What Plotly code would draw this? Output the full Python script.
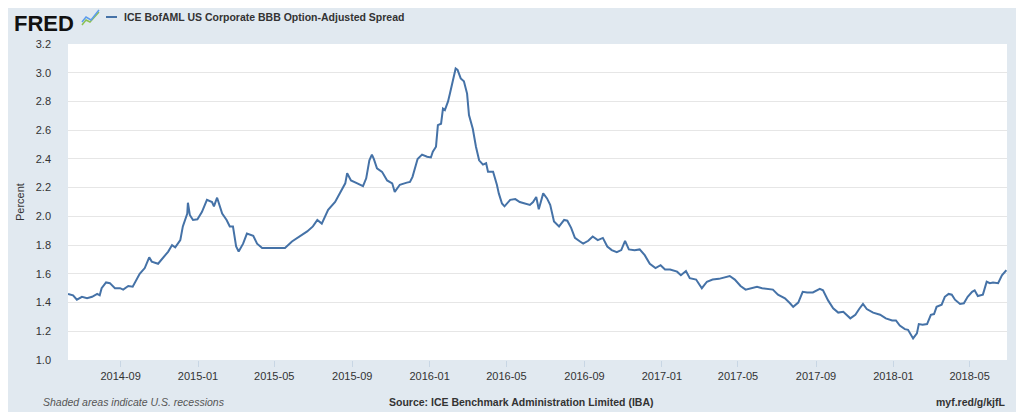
"""FRED-style chart: ICE BofAML US Corporate BBB Option-Adjusted Spread."""

import plotly.graph_objects as go

SERIES_NAME = "ICE BofAML US Corporate BBB Option-Adjusted Spread"
LINE_COLOR = "#4572a7"
PAGE_BG = "#e1e9f0"

dates = [
    "2014-06-10", "2014-06-18", "2014-06-24", "2014-07-02", "2014-07-10", "2014-07-18", "2014-07-26", "2014-07-30",
    "2014-08-02", "2014-08-09", "2014-08-15", "2014-08-23", "2014-08-31", "2014-09-05", "2014-09-13", "2014-09-20",
    "2014-10-01", "2014-10-09", "2014-10-16", "2014-10-20", "2014-10-30", "2014-11-07", "2014-11-15", "2014-11-21",
    "2014-11-26", "2014-12-04", "2014-12-08", "2014-12-15", "2014-12-16", "2014-12-19", "2014-12-24", "2014-12-31",
    "2015-01-07", "2015-01-15", "2015-01-23", "2015-01-26", "2015-01-31", "2015-02-08", "2015-02-15", "2015-02-20",
    "2015-02-25", "2015-03-02", "2015-03-06", "2015-03-13", "2015-03-19", "2015-03-29", "2015-04-04", "2015-04-12",
    "2015-04-24", "2015-05-05", "2015-05-18", "2015-05-29", "2015-06-11", "2015-06-22", "2015-07-01", "2015-07-08",
    "2015-07-15", "2015-07-25", "2015-08-05", "2015-08-13", "2015-08-21", "2015-08-24", "2015-08-30", "2015-09-09",
    "2015-09-18", "2015-09-23", "2015-09-28", "2015-10-02", "2015-10-05", "2015-10-10", "2015-10-18", "2015-10-26",
    "2015-11-03", "2015-11-07", "2015-11-15", "2015-11-26", "2015-12-01", "2015-12-05", "2015-12-10", "2015-12-13",
    "2015-12-20", "2015-12-28", "2016-01-03", "2016-01-06", "2016-01-11", "2016-01-14", "2016-01-19", "2016-01-22",
    "2016-01-25", "2016-01-30", "2016-02-02", "2016-02-06", "2016-02-11", "2016-02-14", "2016-02-19", "2016-02-24",
    "2016-02-29", "2016-03-03", "2016-03-09", "2016-03-14", "2016-03-19", "2016-03-25", "2016-03-30", "2016-04-02",
    "2016-04-10", "2016-04-16", "2016-04-19", "2016-04-24", "2016-04-28", "2016-05-07", "2016-05-15", "2016-05-22",
    "2016-05-30", "2016-06-07", "2016-06-12", "2016-06-17", "2016-06-21", "2016-06-28", "2016-07-04", "2016-07-09",
    "2016-07-15", "2016-07-23", "2016-07-31", "2016-08-05", "2016-08-11", "2016-08-17", "2016-08-25", "2016-08-30",
    "2016-09-07", "2016-09-14", "2016-09-22", "2016-09-30", "2016-10-07", "2016-10-14", "2016-10-22", "2016-10-29",
    "2016-11-04", "2016-11-10", "2016-11-19", "2016-11-27", "2016-12-05", "2016-12-13", "2016-12-22", "2016-12-30",
    "2017-01-06", "2017-01-14", "2017-01-25", "2017-01-31", "2017-02-08", "2017-02-14", "2017-02-24", "2017-03-05",
    "2017-03-13", "2017-03-22", "2017-04-01", "2017-04-09", "2017-04-18", "2017-04-26", "2017-05-05", "2017-05-13",
    "2017-05-23", "2017-05-31", "2017-06-08", "2017-06-17", "2017-06-25", "2017-07-03", "2017-07-14", "2017-07-22",
    "2017-07-27", "2017-08-04", "2017-08-11", "2017-08-18", "2017-08-27", "2017-09-07", "2017-09-12", "2017-09-20",
    "2017-09-28", "2017-10-06", "2017-10-14", "2017-10-25", "2017-11-02", "2017-11-08", "2017-11-14", "2017-11-20",
    "2017-11-30", "2017-12-11", "2017-12-20", "2017-12-30", "2018-01-05", "2018-01-11", "2018-01-19", "2018-01-24",
    "2018-02-01", "2018-02-07", "2018-02-10", "2018-02-16", "2018-02-23", "2018-03-01", "2018-03-06", "2018-03-10",
    "2018-03-18", "2018-03-23", "2018-03-29", "2018-04-03", "2018-04-08", "2018-04-16", "2018-04-22", "2018-04-28",
    "2018-05-05", "2018-05-09", "2018-05-14", "2018-05-22", "2018-05-28", "2018-06-02", "2018-06-07", "2018-06-15",
    "2018-06-21", "2018-06-28",
]

spread = [
    1.46, 1.45, 1.42, 1.44, 1.43, 1.44, 1.46, 1.45,
    1.50, 1.54, 1.535, 1.50, 1.50, 1.49, 1.515, 1.51,
    1.60, 1.64, 1.715, 1.685, 1.67, 1.715, 1.755, 1.80,
    1.785, 1.835, 1.93, 2.02, 2.095, 2.01, 1.975, 1.98,
    2.03, 2.115, 2.10, 2.07, 2.13, 2.02, 1.975, 1.93,
    1.93, 1.79, 1.755, 1.81, 1.88, 1.865, 1.81, 1.78,
    1.78, 1.785, 1.78, 1.825, 1.86, 1.895, 1.93, 1.975,
    1.95, 2.045, 2.10, 2.17, 2.23, 2.30, 2.25, 2.23,
    2.21, 2.265, 2.39, 2.43, 2.40, 2.335, 2.31, 2.25,
    2.23, 2.17, 2.22, 2.235, 2.24, 2.275, 2.36, 2.40,
    2.43, 2.415, 2.41, 2.45, 2.485, 2.635, 2.645, 2.75,
    2.74, 2.80, 2.855, 2.925, 3.03, 3.02, 2.96, 2.94,
    2.855, 2.705, 2.61, 2.485, 2.39, 2.36, 2.37, 2.31,
    2.31, 2.22, 2.16, 2.09, 2.07, 2.115, 2.12, 2.10,
    2.09, 2.08, 2.10, 2.135, 2.05, 2.16, 2.125, 2.08,
    1.965, 1.93, 1.975, 1.97, 1.92, 1.85, 1.825, 1.81,
    1.83, 1.86, 1.835, 1.85, 1.79, 1.765, 1.75, 1.765,
    1.83, 1.77, 1.765, 1.77, 1.73, 1.67, 1.64, 1.66,
    1.63, 1.63, 1.615, 1.59, 1.62, 1.57, 1.56, 1.50,
    1.545, 1.56, 1.565, 1.575, 1.585, 1.56, 1.515, 1.49,
    1.50, 1.51, 1.50, 1.495, 1.49, 1.455, 1.43, 1.395,
    1.37, 1.40, 1.475, 1.47, 1.47, 1.495, 1.485, 1.415,
    1.36, 1.33, 1.335, 1.29, 1.315, 1.355, 1.39, 1.355,
    1.33, 1.315, 1.29, 1.275, 1.275, 1.24, 1.215, 1.21,
    1.15, 1.185, 1.25, 1.245, 1.25, 1.315, 1.32, 1.37,
    1.385, 1.44, 1.46, 1.455, 1.42, 1.39, 1.395, 1.44,
    1.475, 1.485, 1.445, 1.455, 1.545, 1.535, 1.54, 1.535,
    1.59, 1.625,
]

tick_dates = [
    "2014-09-01", "2015-01-01", "2015-05-01", "2015-09-01", "2016-01-01", "2016-05-01",
    "2016-09-01", "2017-01-01", "2017-05-01", "2017-09-01", "2018-01-01", "2018-05-01",
]
tick_labels = [
    "2014-09", "2015-01", "2015-05", "2015-09", "2016-01", "2016-05",
    "2016-09", "2017-01", "2017-05", "2017-09", "2018-01", "2018-05",
]
x_range = ["2014-06-10", "2018-06-29"]
y_range = [1.0, 3.2]

# The page body keeps its default 8px margin, so the figure itself is 8px
# smaller and every absolute page position is shifted back by that amount.
OFFSET = 8
W, H = 1024 - OFFSET, 412 - OFFSET
PLOT_LEFT, PLOT_RIGHT, PLOT_TOP, PLOT_BOTTOM = 68, 1007, 44, 360  # page pixels
L = PLOT_LEFT - OFFSET
T = PLOT_TOP - OFFSET
R = W - (PLOT_RIGHT - OFFSET)
B = H - (PLOT_BOTTOM - OFFSET)
PW, PH = PLOT_RIGHT - PLOT_LEFT, PLOT_BOTTOM - PLOT_TOP


def paper(px, py):
    """Page pixel position -> paper coordinates."""
    return (px - PLOT_LEFT) / PW, (PLOT_BOTTOM - py) / PH


def polyline(points):
    """SVG path in paper coordinates through page pixel points."""
    parts = []
    for i, (px, py) in enumerate(points):
        x, y = paper(px, py)
        parts.append(("M" if i == 0 else "L") + f"{x:.4f},{y:.4f}")
    return " ".join(parts)


fig = go.Figure()
fig.add_trace(
    go.Scatter(
        x=dates,
        y=spread,
        mode="lines",
        name=SERIES_NAME,
        line={"color": LINE_COLOR, "width": 2},
        hoverinfo="x+y",
    )
)

font = "Liberation Sans, Arial, sans-serif"
annotations = []


def note(text, px, py, size, color="#333", anchor="left", **extra):
    x, y = paper(px, py)
    annotations.append(dict(
        text=text, x=x, y=y, xref="paper", yref="paper", xanchor=anchor, yanchor="middle",
        showarrow=False, font={"family": font, "size": size, "color": color}, **extra,
    ))


# the logo box has to stay inside the figure, which starts 8px down the page
note("<b>FRED</b>", 44, 23, 22, color="#111", anchor="center", borderpad=0)
note("<b>" + SERIES_NAME + "</b>", 122, 17, 10.5, color="#333")
note("Percent", 20, 202, 11, color="#333", anchor="center", textangle=-90)
note("<i>Shaded areas indicate U.S. recessions</i>", 41, 402, 10.5, color="#555")
note("<b>Source: ICE Benchmark Administration Limited (IBA)</b>", 521, 402, 10.5, color="#333", anchor="center")
note("<b>myf.red/g/kjfL</b>", 1007, 402, 10.5, color="#333", anchor="right")

shapes = [
    # little chart icon next to the logo
    dict(type="path", xref="paper", yref="paper", path=polyline([(82, 25), (86, 20), (90, 22), (99, 12)]),
         line={"color": "#8cc152", "width": 1.5}),
    dict(type="path", xref="paper", yref="paper", path=polyline([(82, 22), (86, 17), (91, 20), (99, 10)]),
         line={"color": "#5d9cec", "width": 1.5}),
    # legend line sample
    dict(type="line", xref="paper", yref="paper",
         x0=paper(106, 17)[0], x1=paper(117, 17)[0], y0=paper(106, 17)[1], y1=paper(106, 17)[1],
         line={"color": LINE_COLOR, "width": 2}),
]

fig.update_layout(
    width=W,
    height=H,
    margin={"l": L, "r": R, "t": T, "b": B, "pad": 0},
    paper_bgcolor=PAGE_BG,
    plot_bgcolor="#ffffff",
    showlegend=False,
    font={"family": font, "size": 11, "color": "#333"},
    annotations=annotations,
    shapes=shapes,
    xaxis={
        "type": "date",
        "range": x_range,
        "tickvals": tick_dates,
        "ticktext": tick_labels,
        "ticks": "outside",
        "ticklen": 6,
        "tickcolor": "#c8d6e4",
        "showgrid": False,
        "zeroline": False,
        "showline": False,
        "tickfont": {"size": 11, "color": "#333"},
    },
    yaxis={
        "range": y_range,
        "dtick": 0.2,
        "tick0": 1.0,
        "tickformat": ".1f",
        "showgrid": True,
        "gridcolor": "#e6e6e6",
        "gridwidth": 1,
        "zeroline": False,
        "showline": False,
        "ticks": "",
        "ticklabelstandoff": 16,
        "tickfont": {"size": 11, "color": "#333"},
    },
)

fig.write_html("out.html")
